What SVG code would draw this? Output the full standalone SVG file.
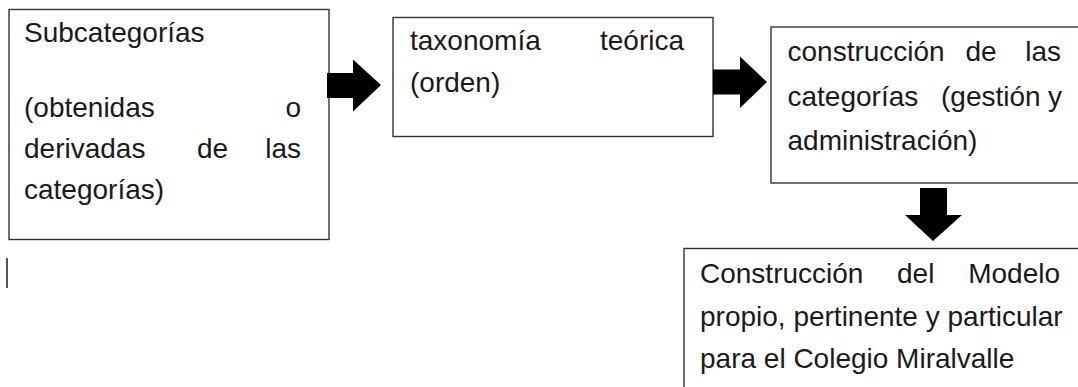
<svg xmlns="http://www.w3.org/2000/svg" width="1078" height="387" viewBox="0 0 1078 387">
<style>
.box{fill:#fff;stroke:#333;stroke-width:1.4}
.t{font-family:"Liberation Sans",Arial,sans-serif;font-size:28px;fill:#1a1a1a}
.e{text-anchor:end}
.arr{fill:#000}
</style>
<rect width="1078" height="387" fill="#fff"/>
<g id="n1">
<rect class="box" x="9" y="9.5" width="320" height="230"/>
<text class="t" x="24" y="42">Subcategorías</text>
<text class="t" x="24" y="117">(obtenidas</text>
<text class="t e" x="301" y="117">o</text>
<text class="t" x="24" y="157.5">derivadas</text>
<text class="t" x="197" y="157.5">de</text>
<text class="t e" x="301" y="157.5">las</text>
<text class="t" x="24" y="198.5">categorías)</text>
</g>
<g id="n2">
<rect class="box" x="393" y="17.5" width="320" height="119"/>
<text class="t" x="410" y="49.5">taxonomía</text>
<text class="t e" x="684" y="49.5">teórica</text>
<text class="t" x="410" y="92">(orden)</text>
</g>
<g id="n3">
<rect class="box" x="771" y="27" width="320" height="156"/>
<text class="t" x="787.5" y="61">construcción</text>
<text class="t" x="965.5" y="61">de</text>
<text class="t e" x="1061" y="61">las</text>
<text class="t" x="787.5" y="106">categorías</text>
<text class="t" x="941" y="106">(gestión</text>
<text class="t e" x="1062" y="106">y</text>
<text class="t" x="787.5" y="150">administración)</text>
</g>
<g id="n4">
<rect class="box" x="684" y="248.5" width="410" height="160"/>
<text class="t" x="700" y="283">Construcción</text>
<text class="t" x="897" y="283">del</text>
<text class="t e" x="1060" y="283">Modelo</text>
<text class="t" x="700" y="325.5">propio, pertinente y particular</text>
<text class="t" x="700" y="368">para el Colegio Miralvalle</text>
</g>
<g id="connectors">
<polygon class="arr" points="327,73 353,73 353,59.5 381,85 353,111.5 353,98 327,98"/>
<polygon class="arr" points="713,69.5 740,69.5 740,56.5 767,82 740,108 740,94.5 713,94.5"/>
<polygon class="arr" points="920,188 947,188 947,215 962,215 933,241 905,215 920,215"/>
</g>
<line x1="7" y1="258" x2="7" y2="288" stroke="#555" stroke-width="2"/>
</svg>
